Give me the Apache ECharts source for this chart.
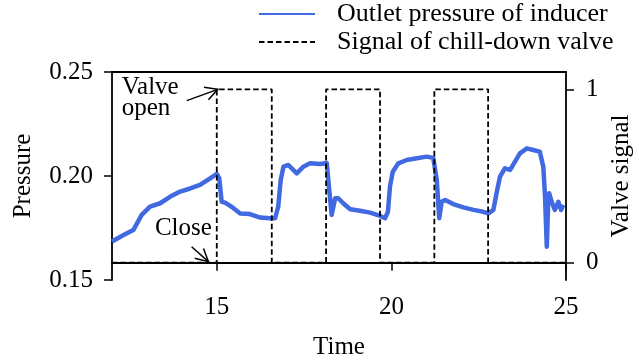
<!DOCTYPE html>
<html>
<head>
<meta charset="utf-8">
<script src="https://cdn.jsdelivr.net/npm/echarts@6/dist/echarts.min.js"></script>
<style>
  html, body { margin: 0; padding: 0; background: #fff; }
  #chart { width: 639px; height: 360px; }
</style>
</head>
<body>
<div id="chart"></div>
<script>
// Inducer outlet pressure (left axis) against time
const pressureTime = [
  12.00, 12.33, 12.61, 12.85, 13.09, 13.38, 13.66, 13.95, 14.24, 14.52, 14.81, 15.00,
  15.07, 15.14, 15.24, 15.48, 15.67, 15.95, 16.24, 16.53, 16.67, 16.76, 16.83, 16.91,
  17.05, 17.29, 17.48, 17.67, 17.96, 18.15, 18.22, 18.29, 18.39, 18.48, 18.62, 18.82,
  19.10, 19.39, 19.68, 19.82, 19.90, 19.96, 20.04, 20.20, 20.44, 20.73, 21.01, 21.20,
  21.30, 21.37, 21.44, 21.54, 21.77, 22.06, 22.35, 22.63, 22.78, 22.92, 23.02, 23.11,
  23.25, 23.40, 23.54, 23.68, 23.88, 24.06, 24.25, 24.35, 24.40, 24.45, 24.49, 24.52,
  24.59, 24.68, 24.78, 24.86, 24.92
];
const pressureValue = [
  0.1685, 0.1716, 0.1740, 0.1813, 0.1853, 0.1869, 0.1900, 0.1925, 0.1940, 0.1957, 0.1989, 0.2010,
  0.1990, 0.1876, 0.1872, 0.1845, 0.1820, 0.1817, 0.1800, 0.1797, 0.1797, 0.1853, 0.1980, 0.2045,
  0.2053, 0.2013, 0.2045, 0.2061, 0.2058, 0.2062, 0.1933, 0.1813, 0.1893, 0.1893, 0.1869, 0.1840,
  0.1833, 0.1824, 0.1808, 0.1797, 0.1828, 0.1949, 0.2021, 0.2061, 0.2077, 0.2085, 0.2093, 0.2087,
  0.1980, 0.1797, 0.1876, 0.1885, 0.1865, 0.1849, 0.1837, 0.1828, 0.1820, 0.1837, 0.1925, 0.1997,
  0.2037, 0.2029, 0.2069, 0.2109, 0.2133, 0.2125, 0.2117, 0.2045, 0.1900, 0.1660, 0.1869, 0.1917,
  0.1876, 0.1837, 0.1876, 0.1837, 0.1861
];

// Chill-down valve signal (right axis): switching instants and state held after each
const valveTime  = [12, 15.0, 16.575, 18.13, 19.675, 21.23, 22.77, 25];
const valveState = [0, 1, 0, 1, 0, 1, 0, 0];

// Axis ticks
const timeTicks = [15, 20, 25];
const pressureTicks = [0.15, 0.20, 0.25];
const signalTicks = [0, 1];

// Annotations, placed in (time, valve signal) coordinates
const openArrow = { from: [14.14, 0.935], to: [15.03, 1.0] };
const closeArrow = { from: [14.28, 0.092], to: [14.76, 0.006] };
const openLabel = { at: [12.28, 1.008], lines: ['Valve', 'open'] };
const closeLabel = { at: [14.86, 0.198], text: 'Close' };

const FONT = '"Liberation Serif", "DejaVu Serif", serif';
const FS = 25;
const BLUE = '#4169e1';

const chart = echarts.init(document.getElementById('chart'), null, { renderer: 'canvas' });

const pressureData = pressureTime.map((t, i) => [t, pressureValue[i]]);
const valveData = valveTime.map((t, i) => [t, valveState[i]]);

const axisLineStyle = { color: '#000', width: 1.8 };
const tickStyle = { color: '#000', width: 1.5 };
const labelStyle = { color: '#000', fontFamily: FONT, fontSize: FS };
const nameStyle = { color: '#000', fontFamily: FONT, fontSize: FS };

chart.setOption({
  animation: false,
  backgroundColor: '#fff',
  grid: { left: 112, right: 73, top: 72, bottom: 80, outerBoundsMode: 'none', containLabel: false },
  legend: {
    orient: 'vertical',
    left: 258,
    top: 1,
    padding: 0,
    itemWidth: 56,
    itemHeight: 14,
    itemGap: 2,
    // the line series draw no symbols, so the legend shows only the line sample
    itemStyle: { opacity: 0, borderWidth: 0 },
    textStyle: { color: '#000', fontFamily: FONT, fontSize: 26, padding: [0, 0, 0, 17] },
    data: ['Outlet pressure of inducer', 'Signal of chill-down valve']
  },
  xAxis: [
    {
      type: 'value', min: 12, max: 25, position: 'bottom',
      name: 'Time', nameLocation: 'middle', nameGap: 55,
      nameTextStyle: nameStyle,
      axisLine: { show: true, lineStyle: axisLineStyle },
      axisTick: { show: true, length: 8, lineStyle: tickStyle, customValues: timeTicks },
      axisLabel: Object.assign({ margin: 15, customValues: timeTicks }, labelStyle),
      splitLine: { show: false }
    },
    {
      type: 'value', min: 12, max: 25, position: 'top',
      axisLine: { show: true, lineStyle: axisLineStyle },
      axisTick: { show: false }, axisLabel: { show: false }, splitLine: { show: false }
    }
  ],
  yAxis: [
    {
      type: 'value', min: 0.15, max: 0.25, position: 'left',
      name: 'Pressure', nameLocation: 'middle', nameGap: 76, nameRotate: 90,
      nameTextStyle: nameStyle,
      axisLine: { show: true, lineStyle: axisLineStyle },
      axisTick: { show: true, length: 8, lineStyle: tickStyle, customValues: pressureTicks },
      axisLabel: Object.assign({
        margin: 19, customValues: pressureTicks,
        formatter: v => v.toFixed(2)
      }, labelStyle),
      splitLine: { show: false }
    },
    {
      type: 'value', min: -0.1, max: 1.1, position: 'right',
      name: 'Valve signal', nameLocation: 'middle', nameGap: 38, nameRotate: 90,
      nameTextStyle: nameStyle,
      axisLine: { show: true, lineStyle: axisLineStyle },
      axisTick: { show: true, length: 8, lineStyle: tickStyle, customValues: signalTicks },
      axisLabel: Object.assign({ margin: 20, customValues: signalTicks }, labelStyle),
      splitLine: { show: false }
    }
  ],
  series: [
    {
      name: 'Outlet pressure of inducer',
      type: 'line',
      xAxisIndex: 0, yAxisIndex: 0,
      data: pressureData,
      symbol: 'none',
      smooth: false,
      lineStyle: { color: BLUE, width: 4.5, join: 'round' },
      itemStyle: { color: BLUE },
      z: 2
    },
    {
      name: 'Signal of chill-down valve',
      type: 'line',
      xAxisIndex: 0, yAxisIndex: 1,
      data: valveData,
      step: 'end',
      symbol: 'none',
      lineStyle: { color: '#000', width: 1.8, type: [5.5, 3] },
      itemStyle: { color: '#000' },
      z: 3
    }
  ]
});

// Annotation arrows and texts, converted from data to pixel space
function px(p) {
  return chart.convertToPixel({ xAxisIndex: 0, yAxisIndex: 1 }, p);
}
function arrowShapes(a) {
  const s = px(a.from), e = px(a.to);
  const ang = Math.atan2(e[1] - s[1], e[0] - s[0]);
  const L = 14, th = 28 * Math.PI / 180;
  const w1 = [e[0] - L * Math.cos(ang - th), e[1] - L * Math.sin(ang - th)];
  const w2 = [e[0] - L * Math.cos(ang + th), e[1] - L * Math.sin(ang + th)];
  const st = { stroke: '#000', lineWidth: 1.5, fill: null };
  return [
    { type: 'line', shape: { x1: s[0], y1: s[1], x2: e[0], y2: e[1] }, style: st, z: 10 },
    { type: 'polyline', shape: { points: [w1, e, w2] }, style: st, z: 10 }
  ];
}
const op = px(openLabel.at);
const cl = px(closeLabel.at);
chart.setOption({
  graphic: [
    ...arrowShapes(openArrow),
    ...arrowShapes(closeArrow),
    {
      // two-line label; its vertical centre sits between the lines
      type: 'text', x: op[0], y: op[1] + 10, z: 10,
      style: {
        text: openLabel.lines.join('\n'), fill: '#000', font: FS + 'px ' + FONT,
        lineHeight: 21, align: 'left', verticalAlign: 'middle'
      }
    },
    {
      type: 'text', x: cl[0], y: cl[1], z: 10,
      style: {
        text: closeLabel.text, fill: '#000', font: FS + 'px ' + FONT,
        align: 'right', verticalAlign: 'middle'
      }
    }
  ]
});
</script>
</body>
</html>
